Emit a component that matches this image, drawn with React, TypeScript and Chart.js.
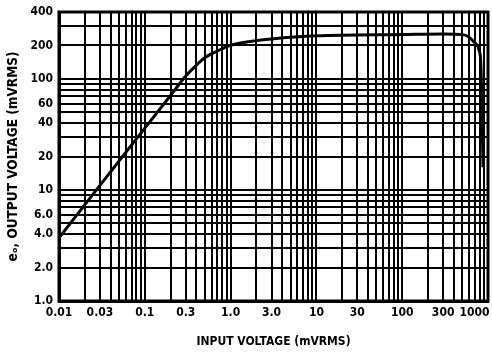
import React, { useEffect, useRef } from 'react';
import { Chart, registerables } from 'chart.js';
Chart.register(...registerables);

// Curve data (input mVRMS -> output mVRMS)
const inputV = [0.01, 0.03, 0.1, 0.2, 0.25, 0.3, 0.4, 0.5, 0.7, 1.0, 2.0, 3.0, 10, 100, 300, 525, 687, 785, 824, 851, 875];
const outputV = [3.7, 11, 36, 71, 89, 106, 133, 155, 178, 200, 221, 229, 244, 251, 254, 249, 215, 182, 139, 52, 16];

// Tick labels
const xTickValues = [0.01, 0.03, 0.1, 0.3, 1, 3, 10, 30, 100, 300, 1000];
const xTickText = ['0.01', '0.03', '0.1', '0.3', '1.0', '3.0', '10', '30', '100', '300', '1000\u2002\u2002\u2002\u2002\u2002'];
const yTickValues = [1, 2, 4, 6, 10, 20, 40, 60, 100, 200, 400];
const yTickText = ['1.0', '2.0', '4.0', '6.0', '10', '20', '40', '60', '100', '200', '400'];

// Grid decades
const xDecades = [0.01, 0.1, 1, 10, 100];
const yDecades = [1, 10, 100];
const multipliers = [1, 2, 3, 4, 5, 6, 7, 8, 9];

const xGrid = [...xDecades.flatMap((d) => multipliers.map((m) => Number((m * d).toPrecision(3)))), 1000];
const yGrid = yDecades
  .flatMap((d) => multipliers.map((m) => Number((m * d).toPrecision(3))))
  .filter((v) => v <= 400);

const FONT = "'Liberation Sans Narrow', 'DejaVu Sans Condensed', 'Roboto Condensed', sans-serif";

const findLabel = (v: number, vals: number[], texts: string[]) => {
  for (let i = 0; i < vals.length; i++) {
    if (Math.abs(Math.log10(v) - Math.log10(vals[i])) < 1e-6) return texts[i];
  }
  return '';
};

const framePlugin = {
  id: 'frame',
  afterDraw(chart: any) {
    const { ctx, chartArea } = chart;
    ctx.save();
    ctx.strokeStyle = '#000';
    ctx.lineWidth = 3;
    ctx.strokeRect(chartArea.left, chartArea.top, chartArea.right - chartArea.left, chartArea.bottom - chartArea.top);
    ctx.restore();
  },
};

const bgPlugin = {
  id: 'bg',
  beforeDraw(chart: any) {
    const { ctx, width, height } = chart;
    ctx.save();
    ctx.fillStyle = '#fff';
    ctx.fillRect(0, 0, width, height);
    ctx.restore();
  },
};

export default function App() {
  const ref = useRef<HTMLCanvasElement | null>(null);
  useEffect(() => {
    if (!ref.current) return;
    const chart = new Chart(ref.current, {
      type: 'line',
      data: {
        datasets: [
          {
            data: inputV.map((x, i) => ({ x, y: outputV[i] })),
            borderColor: '#000',
            borderWidth: 3,
            pointRadius: 0,
            fill: false,
            cubicInterpolationMode: 'monotone',
          },
        ],
      },
      options: {
        animation: false,
        responsive: false,
        maintainAspectRatio: false,
        layout: { padding: { top: 12, right: 4, left: 0, bottom: 0 } },
        plugins: { legend: { display: false }, tooltip: { enabled: false } },
        scales: {
          x: {
            type: 'logarithmic',
            min: 0.01,
            max: 1000,
            afterBuildTicks: (scale: any) => {
              scale.ticks = xGrid.map((v) => ({ value: v }));
            },
            afterFit: (scale: any) => {
              scale.height = 54;
              scale.paddingLeft = 0;
              scale.paddingRight = 0;
            },
            grid: { color: '#000', lineWidth: 2, drawTicks: false },
            border: { display: true, color: '#000', width: 3 },
            ticks: {
              autoSkip: false,
              maxRotation: 0,
              minRotation: 0,
              padding: 5,
              color: '#000',
              font: { family: FONT, size: 12, weight: 'bold' },
              callback: (v: any) => findLabel(Number(v), xTickValues, xTickText),
            },
            title: {
              display: true,
              text: 'INPUT VOLTAGE (mVRMS)',
              color: '#000',
              font: { family: FONT, size: 12, weight: 'bold' },
              padding: { top: 14, bottom: 6 },
            },
          },
          y: {
            type: 'logarithmic',
            min: 1,
            max: 400,
            afterBuildTicks: (scale: any) => {
              scale.ticks = yGrid.map((v) => ({ value: v }));
            },
            afterFit: (scale: any) => {
              scale.width = 59;
              scale.paddingTop = 0;
              scale.paddingBottom = 0;
            },
            grid: { color: '#000', lineWidth: 2, drawTicks: false },
            border: { display: true, color: '#000', width: 3 },
            ticks: {
              autoSkip: false,
              padding: 6,
              color: '#000',
              font: { family: FONT, size: 12, weight: 'bold' },
              callback: (v: any) => findLabel(Number(v), yTickValues, yTickText),
            },
            title: {
              display: true,
              text: 'e\u2092, OUTPUT VOLTAGE (mVRMS)',
              color: '#000',
              font: { family: FONT, size: 13.5, weight: 'bold' },
              padding: { top: 5, bottom: 4 },
            },
          },
        },
      } as any,
      plugins: [bgPlugin, framePlugin],
    });
    return () => chart.destroy();
  }, []);

  return (
    <div style={{ position: 'absolute', left: 0, top: 0, width: 492, height: 355, background: '#fff' }}>
      <canvas ref={ref} width={492} height={355} style={{ width: 492, height: 355, display: 'block' }} />
    </div>
  );
}
